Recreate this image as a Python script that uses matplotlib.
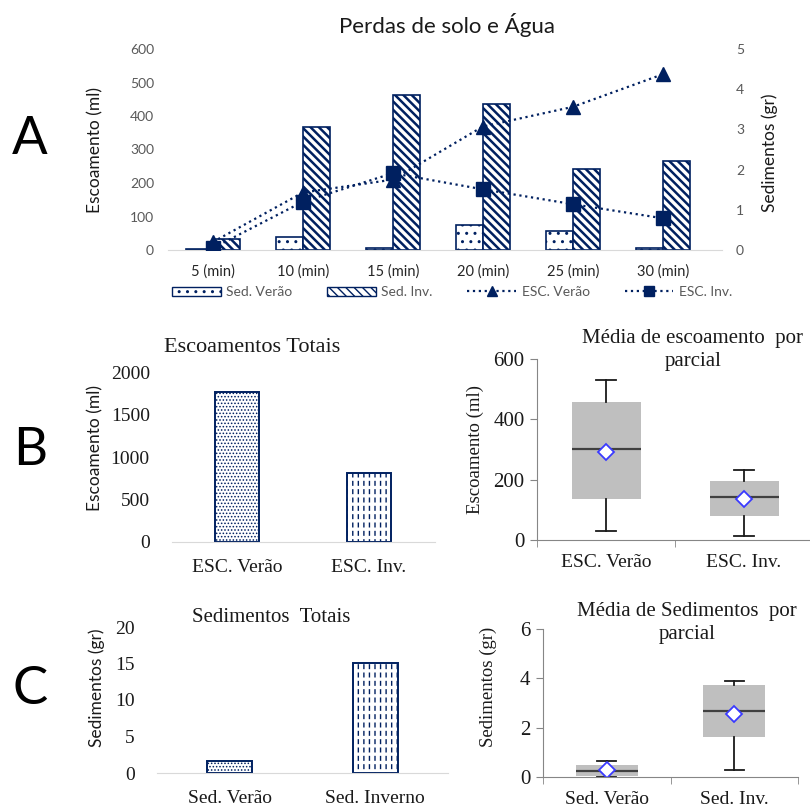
import matplotlib
matplotlib.use('Agg')
import matplotlib.pyplot as plt
from matplotlib.patches import Patch
from matplotlib.lines import Line2D

plt.rcParams['font.family'] = ['Lato', 'DejaVu Sans']
plt.rcParams['hatch.linewidth'] = 1.0

# ---- data ----
tempos = ['5 (min)', '10 (min)', '15 (min)', '20 (min)', '25 (min)', '30 (min)']
sed_verao = [3, 40, 6, 75, 58, 6]
sed_inv = [32, 368, 463, 436, 241, 267]
esc_verao = [0.2, 1.43, 1.75, 3.07, 3.56, 4.37]
esc_inv = [0.05, 1.2, 1.91, 1.51, 1.14, 0.79]

esc_tot_labels = ['ESC. Verão', 'ESC. Inv.']
esc_tot = [1765, 812]
sed_tot_labels = ['Sed. Verão', 'Sed. Inverno']
sed_tot = [1.6, 15.1]

esc_box_labels = ['ESC. Verão', 'ESC. Inv.']
esc_whislo = [30, 14]
esc_q1 = [136, 80]
esc_med = [301, 144]
esc_q3 = [459, 197]
esc_whishi = [531, 233]
esc_mean = [293, 137]

sed_box_labels = ['Sed. Verão', 'Sed. Inv.']
sed_whislo = [0.0, 0.3]
sed_q1 = [0.04, 1.61]
sed_med = [0.23, 2.66]
sed_q3 = [0.5, 3.72]
sed_whishi = [0.63, 3.9]
sed_mean = [0.3, 2.55]

NAVY = '#002060'
SERIF = 'Liberation Serif'
W, H = 810, 808

fig = plt.figure(figsize=(W / 100, H / 100), dpi=100)


def px_axes(x0, y0, x1, y1):
    return fig.add_axes([x0 / W, 1 - y1 / H, (x1 - x0) / W, (y1 - y0) / H])


def ftext(x, y, s, **kw):
    kw.setdefault('ha', 'center')
    kw.setdefault('va', 'center')
    fig.text(x / W, 1 - y / H, s, **kw)


def hatch_lw(bars, lw):
    for b in bars:
        b.set_hatch_linewidth(lw)


def dashed_bar(ax, x, h, w):
    ax.bar(x, h, w, color='white', edgecolor=NAVY, hatch='|||', linewidth=0)
    wb = ax.bar(x, h, w, color='none', edgecolor='white', hatch='--', linewidth=0)
    hatch_lw(wb, 2.4)
    ax.bar(x, h, w, color='none', edgecolor=NAVY, linewidth=1.4)


def dotted_bar(ax, x, h, w):
    b = ax.bar(x, h, w, color='white', edgecolor=NAVY, hatch='.....', linewidth=1.4)
    hatch_lw(b, 0.7)


def clean(ax):
    for s in ['top', 'right', 'left']:
        ax.spines[s].set_visible(False)
    ax.spines['bottom'].set_color('#D9D9D9')
    ax.tick_params(length=0)


# ---------------- A ----------------
axA = px_axes(168, 49, 722, 250)
xs = list(range(len(tempos)))
axA.bar([x - 0.15 for x in xs], sed_verao, 0.3, color='white', edgecolor=NAVY,
        hatch='..', linewidth=1.2)
inv_bars = axA.bar([x + 0.15 for x in xs], sed_inv, 0.3, color='white', edgecolor=NAVY,
                   hatch='\\\\\\\\', linewidth=1.2)
hatch_lw(inv_bars, 1.8)
axA.set_xlim(-0.5, 5.66)
axA.set_ylim(0, 600)
axA.set_yticks(range(0, 601, 100))
axA.set_xticks(xs)
axA.set_xticklabels(tempos, fontsize=10.5, color='#262626')
clean(axA)
axA.tick_params(axis='y', labelsize=10, labelcolor='#595959', pad=10)
axA.tick_params(axis='x', pad=10)

axA2 = axA.twinx()
axA2.plot(xs, esc_verao, ls=':', lw=1.6, color=NAVY, marker='^', ms=10)
axA2.plot(xs, esc_inv, ls=':', lw=1.6, color=NAVY, marker='s', ms=10)
axA2.set_ylim(0, 5)
axA2.set_yticks(range(0, 6))
for s in axA2.spines.values():
    s.set_visible(False)
axA2.tick_params(length=0, labelsize=10, labelcolor='#595959', pad=10)

leg_inv = Patch(facecolor='white', edgecolor=NAVY, hatch='\\\\\\\\', linewidth=1)
leg_inv.set_hatch_linewidth(1.8)
handles = [
    Patch(facecolor='white', edgecolor=NAVY, hatch='..', linewidth=1),
    leg_inv,
    Line2D([], [], ls=':', lw=1.6, color=NAVY, marker='^', ms=7),
    Line2D([], [], ls=':', lw=1.6, color=NAVY, marker='s', ms=7),
]
fig.legend(handles, ['Sed. Verão', 'Sed. Inv.', 'ESC. Verão', 'ESC. Inv.'],
           loc='center', bbox_to_anchor=(452 / W, 1 - 292 / H), ncol=4,
           frameon=False, fontsize=10, labelcolor='#595959', handlelength=3.5,
           handleheight=0.6, handletextpad=0.4, columnspacing=2.5)

ftext(447, 25, 'Perdas de solo e Água', fontsize=16, color='#1a1a1a')
ftext(95, 150, 'Escoamento (ml)', rotation=90, fontsize=12.5, color='#1a1a1a')
ftext(770, 153, 'Sedimentos (gr)', rotation=90, fontsize=12.5, color='#1a1a1a')
ftext(30, 140, 'A', fontsize=38, color='#000000')

# ---------------- B left ----------------
axB = px_axes(172, 372, 435, 542)
dotted_bar(axB, 0, esc_tot[0], 0.33)
dashed_bar(axB, 1, esc_tot[1], 0.33)
axB.set_xlim(-0.49, 1.5)
axB.set_ylim(0, 2000)
axB.set_yticks(range(0, 2001, 500))
axB.set_xticks([0, 1])
axB.set_xticklabels(esc_tot_labels, family=SERIF, fontsize=14, color='#1a1a1a')
clean(axB)
axB.tick_params(axis='y', pad=16)
axB.tick_params(axis='x', pad=12)
for t in axB.get_yticklabels():
    t.set_family(SERIF)
    t.set_fontsize(14)
    t.set_color('#1a1a1a')
ftext(252, 348, 'Escoamentos Totais', family=SERIF, fontsize=16, color='#1a1a1a')
ftext(95, 448, 'Escoamento (ml)', rotation=90, fontsize=12.5, color='#1a1a1a')
ftext(30, 450, 'B', fontsize=38, color='#000000')

# ---------------- C left ----------------
axC = px_axes(157, 627, 448, 773)
dotted_bar(axC, 0, sed_tot[0], 0.31)
dashed_bar(axC, 1, sed_tot[1], 0.31)
axC.set_xlim(-0.5, 1.5)
axC.set_ylim(0, 20)
axC.set_yticks(range(0, 21, 5))
axC.set_xticks([0, 1])
axC.set_xticklabels(sed_tot_labels, family=SERIF, fontsize=14, color='#1a1a1a')
clean(axC)
axC.tick_params(axis='y', pad=16)
axC.tick_params(axis='x', pad=12)
for t in axC.get_yticklabels():
    t.set_family(SERIF)
    t.set_fontsize(14)
    t.set_color('#1a1a1a')
ftext(271, 618, 'Sedimentos  Totais', family=SERIF, fontsize=15, color='#1a1a1a')
ftext(97, 688, 'Sedimentos (gr)', rotation=90, fontsize=12.5, color='#1a1a1a')
ftext(30, 690, 'C', fontsize=38, color='#000000')


# ---------------- box panels ----------------
def box_panel(ax, labels, lo, q1, med, q3, hi, mean, ymax, step, width):
    stats = []
    for i in range(len(labels)):
        stats.append(dict(label=labels[i], whislo=lo[i], q1=q1[i], med=med[i],
                          q3=q3[i], whishi=hi[i], mean=mean[i], fliers=[]))
    ax.bxp(stats, positions=[1, 2], widths=width, patch_artist=True, showmeans=True,
           boxprops=dict(facecolor='#BFBFBF', edgecolor='none'),
           medianprops=dict(color='#404040', lw=1.6),
           whiskerprops=dict(color='#1a1a1a', lw=1.3),
           capprops=dict(color='#1a1a1a', lw=1.3), capwidths=0.15,
           meanprops=dict(marker='D', markerfacecolor='white',
                          markeredgecolor='#3a3aff', markersize=8, markeredgewidth=1.3))
    ax.set_xlim(0.5, 2.5)
    ax.set_ylim(0, ymax)
    ax.set_yticks([v * step for v in range(int(ymax / step) + 1)])
    ax.set_xticks([1, 2])
    ax.set_xticklabels(labels, family=SERIF, fontsize=14, color='#1a1a1a')
    ax.set_xticks([0.5, 1.5, 2.5], minor=True)
    for s in ['top', 'right']:
        ax.spines[s].set_visible(False)
    for s in ['left', 'bottom']:
        ax.spines[s].set_color('#868686')
    ax.tick_params(axis='x', which='major', length=0, pad=10)
    ax.tick_params(axis='x', which='minor', length=5, color='#868686')
    ax.tick_params(axis='y', length=5, color='#868686', pad=4)
    for t in ax.get_yticklabels():
        t.set_family(SERIF)
        t.set_fontsize(15)
        t.set_color('#1a1a1a')


axD = px_axes(537, 359, 813, 540)
box_panel(axD, esc_box_labels, esc_whislo, esc_q1, esc_med, esc_q3, esc_whishi,
          esc_mean, 600, 200, 0.5)
ftext(693, 329, 'Média de escoamento  por\nparcial', va='top', family=SERIF,
      fontsize=15, color='#1a1a1a', linespacing=1.3)
ftext(475, 450, 'Escoamento (ml)', rotation=90, family=SERIF, fontsize=13.5,
      color='#1a1a1a')

axE = px_axes(543, 629, 798, 777)
box_panel(axE, sed_box_labels, sed_whislo, sed_q1, sed_med, sed_q3, sed_whishi,
          sed_mean, 6, 2, 0.49)
ftext(687, 602, 'Média de Sedimentos  por\nparcial', va='top', family=SERIF,
      fontsize=15, color='#1a1a1a', linespacing=1.3)
ftext(488, 687, 'Sedimentos (gr)', rotation=90, family=SERIF, fontsize=13.5,
      color='#1a1a1a')

fig.savefig('out.png', dpi=100)
